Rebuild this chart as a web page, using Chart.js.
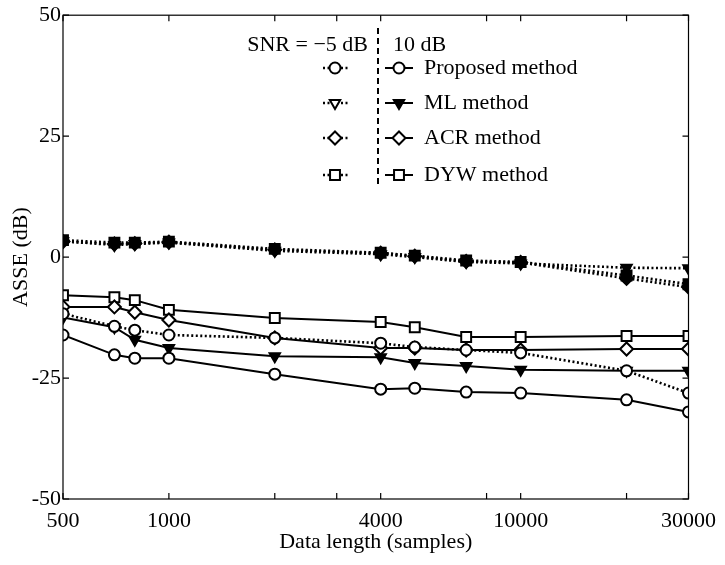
<!DOCTYPE html>
<html>
<head>
<meta charset="utf-8">
<script src="https://cdn.jsdelivr.net/npm/chart.js@4"></script>
<style>
  html, body { margin: 0; padding: 0; background: #fff; }
  #wrap { width: 725px; height: 565px; }
</style>
</head>
<body>
<div id="wrap"><canvas id="asse"></canvas></div>
<script>
// data length (samples)
const lengths = [500, 700, 800, 1000, 2000, 4000, 5000, 7000, 10000, 20000, 30000];

// SNR = -5 dB
const proposedLow = [-11.7, -14.3, -15.1, -16.1, -16.7, -17.8, -18.6, -19.2, -19.8, -23.5, -28.1];
const mlLow       = [3.3, 2.5, 2.7, 3.0, 1.3, 0.6, 0.0, -1.0, -1.3, -2.2, -2.3];
const acrLow      = [3.2, 2.7, 2.8, 3.1, 1.5, 0.8, 0.2, -0.9, -1.1, -4.4, -6.2];
const dywLow      = [3.5, 3.0, 3.0, 3.2, 1.7, 0.9, 0.3, -0.7, -1.0, -3.8, -5.6];

// SNR = 10 dB
const proposedHigh = [-16.1, -20.2, -20.9, -20.9, -24.2, -27.3, -27.1, -27.9, -28.1, -29.5, -32.0];
const mlHigh       = [-12.5, -14.5, -17.1, -18.8, -20.5, -20.7, -21.9, -22.5, -23.3, -23.5, -23.5];
const acrHigh      = [-10.3, -10.3, -11.4, -13.0, -16.7, -18.8, -18.8, -19.2, -19.2, -19.0, -19.0];
const dywHigh      = [-7.9, -8.3, -8.9, -10.9, -12.6, -13.4, -14.5, -16.5, -16.5, -16.3, -16.3];

const xTicks = [500, 1000, 2000, 3000, 4000, 8000, 10000, 20000, 30000];
const xLabels = [500, 1000, 4000, 10000, 30000];
const yTicks = [-50, -25, 0, 25, 50];

const methods = ['Proposed method', 'ML method', 'ACR method', 'DYW method'];
const markers = [
  {pointStyle: 'circle', radius: 5.5, rotation: 0, fill: '#fff'},
  {pointStyle: 'triangle', radius: 6, rotation: 180, fill: '#000'},
  {pointStyle: 'rectRot', radius: 6.5, rotation: 0, fill: '#fff'},
  {pointStyle: 'rect', radius: 7, rotation: 0, fill: '#fff'}
];

const FONT = '"Liberation Serif", "DejaVu Serif", serif';

function pts(vals) {
  return lengths.map((x, i) => ({x: x, y: vals[i]}));
}

// the -5 dB ML/ACR/DYW marks pile up into black blobs in the scan
function series(vals, k, dotted, fill) {
  const m = markers[k];
  return {
    data: pts(vals),
    borderColor: '#000',
    borderWidth: dotted ? 2.6 : 2,
    borderDash: dotted ? [2, 2.5] : [],
    pointStyle: m.pointStyle,
    pointRadius: m.radius,
    pointRotation: m.rotation,
    pointBackgroundColor: fill || m.fill,
    pointBorderColor: '#000',
    pointBorderWidth: 2,
    tension: 0
  };
}

const boxPlugin = {
  id: 'box',
  afterDraw(chart) {
    const ctx = chart.ctx;
    const a = chart.chartArea;
    const x = chart.scales.x, y = chart.scales.y;
    ctx.save();
    ctx.strokeStyle = '#000';
    ctx.lineWidth = 1.2;
    ctx.strokeRect(a.left, a.top, a.right - a.left, a.bottom - a.top);
    ctx.beginPath();
    xTicks.forEach(v => {
      const px = x.getPixelForValue(v);
      ctx.moveTo(px, a.bottom); ctx.lineTo(px, a.bottom - 6);
      ctx.moveTo(px, a.top); ctx.lineTo(px, a.top + 6);
    });
    yTicks.forEach(v => {
      const py = y.getPixelForValue(v);
      ctx.moveTo(a.left, py); ctx.lineTo(a.left + 6, py);
      ctx.moveTo(a.right, py); ctx.lineTo(a.right - 6, py);
    });
    ctx.stroke();

    // legend
    ctx.fillStyle = '#000';
    ctx.font = '22px ' + FONT;
    ctx.textBaseline = 'middle';
    ctx.textAlign = 'right';
    ctx.fillText('SNR = \u22125 dB', 368, 45);
    ctx.textAlign = 'left';
    ctx.fillText('10 dB', 393, 45);

    ctx.lineWidth = 2;
    ctx.setLineDash([6, 4]);
    ctx.beginPath();
    ctx.moveTo(378, 28); ctx.lineTo(378, 188);
    ctx.stroke();

    const rows = [68, 103, 138, 175];
    rows.forEach((ry, k) => {
      const m = markers[k];
      // dotted sample
      ctx.setLineDash([2, 2.5]);
      ctx.lineWidth = 2.6;
      ctx.beginPath();
      ctx.moveTo(323, ry); ctx.lineTo(348, ry);
      ctx.stroke();
      ctx.setLineDash([]);
      ctx.lineWidth = 2;
      ctx.fillStyle = k == 1 ? '#fff' : m.fill;
      Chart.helpers.drawPoint(ctx, {pointStyle: m.pointStyle, radius: m.radius, rotation: m.rotation, borderWidth: 2}, 335, ry);
      // solid sample
      ctx.beginPath();
      ctx.moveTo(385, ry); ctx.lineTo(413, ry);
      ctx.stroke();
      ctx.fillStyle = m.fill;
      Chart.helpers.drawPoint(ctx, {pointStyle: m.pointStyle, radius: m.radius, rotation: m.rotation, borderWidth: 2}, 399, ry);
      ctx.fillStyle = '#000';
      ctx.fillText(methods[k], 424, ry);
    });
    ctx.restore();
  }
};

const ctx = document.getElementById('asse');

const myChart = new Chart(ctx, {
  type: 'line',
  data: {
    datasets: [
      series(proposedLow, 0, true),
      series(mlLow, 1, true, '#000'),
      series(acrLow, 2, true, '#000'),
      series(dywLow, 3, true, '#000'),
      series(proposedHigh, 0, false),
      series(mlHigh, 1, false),
      series(acrHigh, 2, false),
      series(dywHigh, 3, false)
    ]
  },
  options: {
    responsive: true,
    maintainAspectRatio: false,
    animation: false,
    layout: {
      padding: {left: 0, right: 35, top: 15, bottom: 0}
    },
    plugins: {
      legend: {display: false},
      tooltip: {enabled: false}
    },
    scales: {
      x: {
        type: 'logarithmic',
        min: 500,
        max: 30000,
        afterBuildTicks: scale => {
          scale.ticks = xTicks.map(v => ({value: v}));
        },
        afterFit: scale => { scale.height = 66; },
        grid: {display: false, drawTicks: false},
        border: {display: false},
        ticks: {
          autoSkip: false,
          maxRotation: 0,
          padding: 9,
          color: '#000',
          font: {family: FONT, size: 22},
          callback: v => xLabels.includes(v) ? String(v) : ''
        },
        title: {
          display: true,
          text: 'Data length (samples)',
          color: '#000',
          font: {family: FONT, size: 22},
          padding: {top: 0, bottom: 10}
        }
      },
      y: {
        min: -50,
        max: 50,
        afterBuildTicks: scale => {
          scale.ticks = yTicks.map(v => ({value: v}));
        },
        afterFit: scale => { scale.width = 63; },
        grid: {display: false, drawTicks: false},
        border: {display: false},
        ticks: {
          padding: 2,
          color: '#000',
          font: {family: FONT, size: 22},
          callback: v => String(v)
        },
        title: {
          display: true,
          text: 'ASSE (dB)',
          color: '#000',
          font: {family: FONT, size: 22},
          padding: {top: 8, bottom: 0}
        }
      }
    }
  },
  plugins: [boxPlugin]
});
</script>
</body>
</html>
